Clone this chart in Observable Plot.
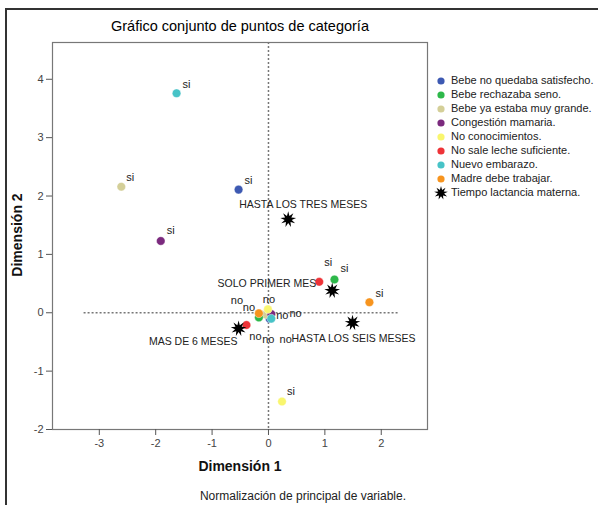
<!DOCTYPE html>
<html>
<head>
<meta charset="utf-8">
<script src="https://cdn.jsdelivr.net/npm/d3@7"></script>
<script src="https://cdn.jsdelivr.net/npm/@observablehq/plot@0.6"></script>
<style>
  html, body { margin: 0; padding: 0; background: white; }
  svg { display: block; }
</style>
</head>
<body>
<div id="chart"></div>
<script>
// ---------- data ----------
const categories = [
  "Bebe no quedaba satisfecho.",
  "Bebe rechazaba seno.",
  "Bebe ya estaba muy grande.",
  "Congestión mamaria.",
  "No conocimientos.",
  "No sale leche suficiente.",
  "Nuevo embarazo.",
  "Madre debe trabajar."
];
const catColors = ["#3d59b2", "#2db84a", "#d4cf98", "#7b2a7e", "#f9f66e", "#ee3338", "#47c3c7", "#f7941e"];
const siX = [-0.53, 1.17, -2.61, -1.91, 0.24, 0.90, -1.63, 1.79];
const siY = [2.11, 0.57, 2.16, 1.23, -1.52, 0.53, 3.76, 0.18];
const noX = [0.02, -0.17, -0.05, 0.05, -0.01, -0.39, 0.05, -0.17];
const noY = [-0.10, -0.08, -0.03, -0.02, 0.06, -0.21, -0.10, -0.01];
const tiempoLabels = ["HASTA LOS TRES MESES", "SOLO PRIMER MES", "HASTA LOS SEIS MESES", "MAS DE 6 MESES"];
const tiempoX = [0.35, 1.13, 1.49, -0.53];
const tiempoY = [1.60, 0.38, -0.17, -0.27];
const xTicks = [-3, -2, -1, 0, 1, 2];
const yTicks = [-2, -1, 0, 1, 2, 3, 4];
const legendStar = "Tiempo lactancia materna.";

// ---------- layout (label placement, draw order) ----------
const drawOrderNo = [0, 2, 1, 7, 3, 6, 4, 5];
const siOffsets = [[6,-9],[6,-11],[5,-9],[6,-10],[5,-10],[5,-19],[6,-9],[6,-9]];
const noOffsets = [[26,-5],[-22,-17],[20,25],[11,2],[1,-10],[9,11],[-3,21],[-10,-6]];
const starOffsets = [[15,-15,"middle"],[-16,-7,"end"],[1,16,"middle"],[-1,13,"end"]];

const points = [];
categories.forEach((c, i) => points.push({cat: i, val: "si", x: siX[i], y: siY[i]}));
const noPoints = drawOrderNo.map(i => ({cat: i, val: "no", x: noX[i], y: noY[i]}));
const stars = tiempoLabels.map((t, i) => ({label: t, x: tiempoX[i], y: tiempoY[i]}));

const starSymbol = {
  draw(ctx, size) {
    const R = Math.sqrt(size / Math.PI), r = R * 0.45, n = 9;
    for (let k = 0; k < 2 * n; k++) {
      const rad = k % 2 === 0 ? R : r;
      const a = Math.PI * k / n - Math.PI / 2;
      const px = rad * Math.cos(a), py = rad * Math.sin(a);
      if (k === 0) ctx.moveTo(px, py); else ctx.lineTo(px, py);
    }
    ctx.closePath();
  }
};

const labelMarks = [];
categories.forEach((c, i) => {
  labelMarks.push(Plot.text([points[i]], {x: "x", y: "y", text: "val", dx: siOffsets[i][0], dy: siOffsets[i][1], textAnchor: "start", lineAnchor: "middle", fill: "#222"}));
  labelMarks.push(Plot.text([{x: noX[i], y: noY[i], val: "no"}], {x: "x", y: "y", text: "val", dx: noOffsets[i][0], dy: noOffsets[i][1], textAnchor: "middle", lineAnchor: "middle", fill: "#222"}));
});
stars.forEach((s, i) => {
  labelMarks.push(Plot.text([s], {x: "x", y: "y", text: "label", dx: starOffsets[i][0], dy: starOffsets[i][1], textAnchor: starOffsets[i][2], lineAnchor: "middle", fill: "#222", fontSize: 10.5}));
});

const hyphenFmt = d => String(d);

const chart = Plot.plot({
  width: 598,
  height: 505,
  marginLeft: 52,
  marginRight: 171,
  marginTop: 42,
  marginBottom: 76,
  style: {fontFamily: "'Liberation Sans', Arial, sans-serif", fontSize: "11px", color: "#333", background: "white"},
  x: {domain: [-3.83, 2.82]},
  y: {domain: [-2, 4.63]},
  marks: [
    Plot.ruleX([0], {stroke: "#777", strokeWidth: 1.5, strokeDasharray: "2,2"}),
    Plot.ruleY([0], {x1: -3.27, x2: 2.31, stroke: "#777", strokeWidth: 1.5, strokeDasharray: "2,2"}),
    Plot.frame({stroke: "#777", strokeWidth: 1.2}),
    Plot.axisX({ticks: xTicks, tickFormat: hyphenFmt, tickSize: 6, tickPadding: 4, label: null, stroke: "#555", fill: "#444"}),
    Plot.axisY({ticks: yTicks, tickFormat: hyphenFmt, tickSize: 6, tickPadding: 3, label: null, stroke: "#555", fill: "#444"}),
    Plot.dot(noPoints, {x: "x", y: "y", r: 4.3, fill: d => catColors[d.cat], stroke: "white", strokeWidth: 0.4}),
    Plot.dot(points, {x: "x", y: "y", r: 4.3, fill: d => catColors[d.cat], stroke: "white", strokeWidth: 0.4}),
    Plot.dot(stars, {x: "x", y: "y", r: 8, symbol: starSymbol, fill: "black"}),
    ...labelMarks
  ]
});

document.getElementById("chart").appendChild(chart);

// ---------- decorations: border, title, axis titles, legend, caption ----------
const FONT = "'Liberation Sans', Arial, sans-serif";
const svg = d3.select(chart);
svg.append("rect").attr("x", 6).attr("y", 9).attr("width", 600).attr("height", 510)
  .attr("fill", "none").attr("stroke", "#333").attr("stroke-width", 2);
svg.append("text").attr("x", 240).attr("y", 27).attr("text-anchor", "middle").attr("dominant-baseline", "middle")
  .attr("font-family", FONT).attr("font-size", 14.5).attr("fill", "#000")
  .text("Gráfico conjunto de puntos de categoría");
svg.append("text").attr("x", 240).attr("y", 467).attr("text-anchor", "middle").attr("dominant-baseline", "middle")
  .attr("font-family", FONT).attr("font-size", 14).attr("font-weight", "bold").attr("fill", "#111")
  .text("Dimensión 1");
svg.append("text").attr("transform", "translate(18,235) rotate(-90)").attr("text-anchor", "middle").attr("dominant-baseline", "middle")
  .attr("font-family", FONT).attr("font-size", 14).attr("font-weight", "bold").attr("fill", "#111")
  .text("Dimensión 2");
svg.append("text").attr("x", 303).attr("y", 497).attr("text-anchor", "middle").attr("dominant-baseline", "middle")
  .attr("font-family", FONT).attr("font-size", 12).attr("fill", "#222")
  .text("Normalización de principal de variable.");

const leg = svg.append("g").attr("font-family", FONT).attr("font-size", 11).attr("fill", "#222").attr("text-anchor", "start");
categories.forEach((c, i) => {
  const y = 81 + i * 14;
  leg.append("circle").attr("cx", 441).attr("cy", y).attr("r", 3.6).attr("fill", catColors[i]);
  leg.append("text").attr("x", 451).attr("y", y).attr("text-anchor", "start").attr("dominant-baseline", "middle").text(c);
});
{
  const y = 81 + 8 * 14;
  const path = d3.path();
  starSymbol.draw(path, Math.PI * 7 * 7);
  leg.append("path").attr("d", path.toString()).attr("transform", `translate(441,${y})`).attr("fill", "black");
  leg.append("text").attr("x", 451).attr("y", y).attr("text-anchor", "start").attr("dominant-baseline", "middle").text(legendStar);
}
</script>
</body>
</html>
